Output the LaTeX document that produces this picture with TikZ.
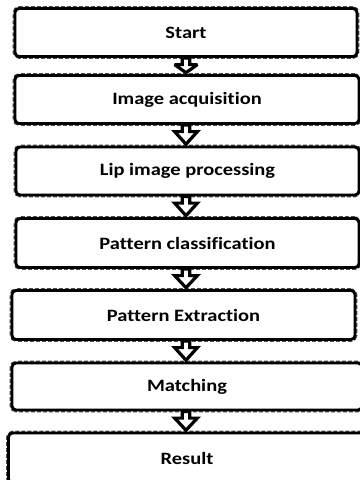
\documentclass[tikz,border=0pt]{standalone}
\usepackage{fontspec}
\setmainfont[Ligatures=NoCommon, BoldFeatures={FakeStretch=1.18}]{Carlito}
\usetikzlibrary{calc}
\tikzset{
  stepbox/.style={draw=black, line width=2.2pt, rounded corners=3pt, fill=white,
    preaction={draw=black!70, line width=3.4pt, dash pattern=on 3pt off 1.5pt, rounded corners=3pt},
    inner sep=0pt, font=\fontsize{13}{15}\selectfont\bfseries},
  blockarr/.style={draw=black, line width=2.4pt, fill=white, line join=miter, miter limit=3}
}
\newcommand\blockarrow[2]{%
  \draw[blockarr] let \p1=(#1.south), \p2=(#2.north), \p3=(ax) in
    (\x3-2.8pt,\y1) -- (\x3+2.8pt,\y1) -- (\x3+2.8pt,\y1-5pt) -- (\x3+8.5pt,\y1-5pt)
    -- (\x3,\y2+1pt) -- (\x3-8.5pt,\y1-5pt) -- (\x3-2.8pt,\y1-5pt) -- cycle;}
\begin{document}
\begin{tikzpicture}[x=0.75pt,y=-0.75pt]
\useasboundingbox (0,0) rectangle (360,480);
\fill[white] (0,0) rectangle (360,480);
\coordinate (ax) at (186,0);
\node[stepbox, minimum width=342*0.75pt, minimum height=48*0.75pt] (s1) at (186,32.5) {Start};
\node[stepbox, minimum width=344*0.75pt, minimum height=48*0.75pt] (s2) at (187,99.5) {Image acquisition};
\node[stepbox, minimum width=343*0.75pt, minimum height=48*0.75pt] (s3) at (187.5,171) {Lip image processing};
\node[stepbox, minimum width=343*0.75pt, minimum height=49*0.75pt] (s4) at (187.5,243) {Pattern classification};
\node[stepbox, minimum width=343*0.75pt, minimum height=49*0.75pt] (s5) at (183.5,315) {Pattern Extraction};
\node[stepbox, minimum width=350*0.75pt, minimum height=47*0.75pt] (s6) at (187,386.5) {Matching};
\node[stepbox, minimum width=357*0.75pt, minimum height=50*0.75pt] (s7) at (187,458) {Result};
\blockarrow{s1}{s2}
\blockarrow{s2}{s3}
\blockarrow{s3}{s4}
\blockarrow{s4}{s5}
\blockarrow{s5}{s6}
\blockarrow{s6}{s7}
\end{tikzpicture}
\end{document}
